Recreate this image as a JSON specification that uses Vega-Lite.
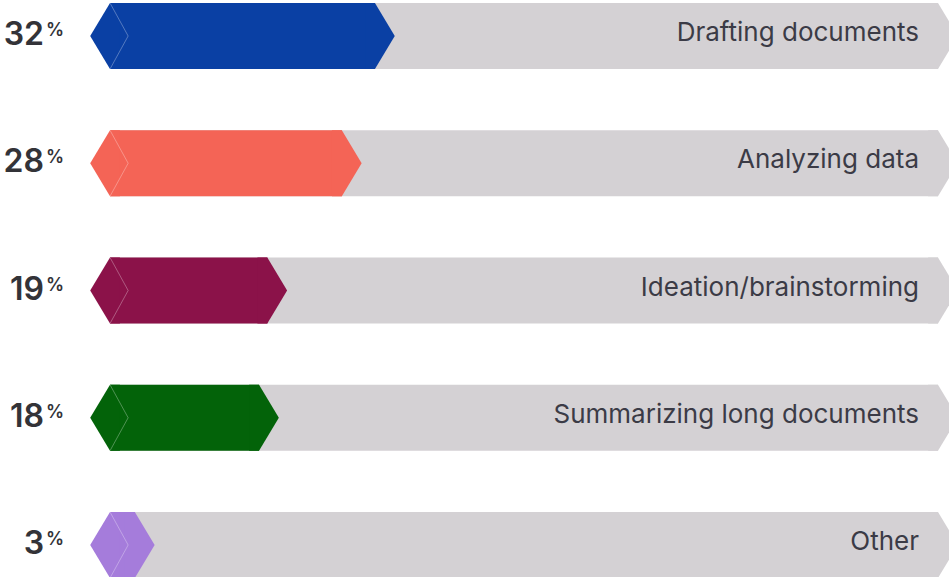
{
  "$schema": "https://vega.github.io/schema/vega-lite/v6.json",
  "width": 828,
  "height": 509,
  "autosize": "none",
  "padding": {"left": 110, "right": 11, "top": 36, "bottom": 32},
  "background": "white",
  "config": {"view": {"stroke": null}},
  "data": {
    "values": [
      {"cat": "Drafting documents", "value": 32},
      {"cat": "Analyzing data", "value": 28},
      {"cat": "Ideation/brainstorming", "value": 19},
      {"cat": "Summarizing long documents", "value": 18},
      {"cat": "Other", "value": 3}
    ]
  },
  "encoding": {
    "y": {"field": "cat", "type": "nominal", "sort": null, "scale": {"type": "point", "padding": 0}, "axis": null}
  },
  "layer": [
    {
      "mark": {"type": "bar", "height": 66, "color": "#d4d1d4"},
      "encoding": {
        "x": {"datum": 0, "type": "quantitative", "scale": {"domain": [0, 100]}, "axis": null},
        "x2": {"datum": 100}
      }
    },
    {
      "mark": {"type": "point", "filled": true, "opacity": 1, "size": 4356, "strokeWidth": 0, "color": "#d4d1d4", "shape": "M-0.3,-1L0,-1L0.6,0L0,1L-0.3,1Z"},
      "encoding": {"x": {"datum": 100, "type": "quantitative"}}
    },
    {
      "mark": {"type": "bar", "height": 66},
      "encoding": {
        "x": {"field": "value", "type": "quantitative"},
        "x2": {"datum": 0},
        "color": {"field": "cat", "type": "nominal", "sort": null, "legend": null,
          "scale": {"domain": ["Drafting documents", "Analyzing data", "Ideation/brainstorming", "Summarizing long documents", "Other"],
                    "range": ["#0a40a4", "#f46456", "#8b1249", "#036309", "#a57cdb"]}}
      }
    },
    {
      "mark": {"type": "point", "filled": true, "opacity": 1, "size": 4356, "strokeWidth": 0, "shape": "M-0.3,-1L0,-1L0.6,0L0,1L-0.3,1Z"},
      "encoding": {
        "x": {"field": "value", "type": "quantitative"},
        "color": {"field": "cat", "type": "nominal", "sort": null, "legend": null}
      }
    },
    {
      "mark": {"type": "point", "filled": true, "opacity": 1, "size": 4356, "strokeWidth": 0, "shape": "M0.3,-1L0,-1L-0.6,0L0,1L0.3,1Z"},
      "encoding": {
        "x": {"datum": 0, "type": "quantitative"},
        "color": {"field": "cat", "type": "nominal", "sort": null, "legend": null}
      }
    },
    {
      "mark": {"type": "point", "filled": false, "opacity": 1, "size": 4356, "strokeWidth": 1, "stroke": "white", "strokeOpacity": 0.3, "shape": "M0,-1L0.55,0L0,1"},
      "encoding": {"x": {"datum": 0, "type": "quantitative"}}
    },
    {
      "mark": {"type": "text", "align": "right", "baseline": "alphabetic", "dx": -66, "dy": 9, "font": "Inter", "fontSize": 32, "fontWeight": 600, "color": "#333338"},
      "encoding": {"x": {"datum": 0, "type": "quantitative"}, "text": {"field": "value"}}
    },
    {
      "mark": {"type": "text", "align": "left", "baseline": "alphabetic", "dx": -64, "dy": 0, "font": "Inter", "fontSize": 18, "fontWeight": 600, "color": "#333338", "text": "%"},
      "encoding": {"x": {"datum": 0, "type": "quantitative"}}
    },
    {
      "mark": {"type": "text", "align": "right", "baseline": "alphabetic", "dx": -19, "dy": 5, "font": "Inter", "fontSize": 26, "fontWeight": 400, "color": "#3b3b46"},
      "encoding": {"x": {"datum": 100, "type": "quantitative"}, "text": {"field": "cat"}}
    }
  ]
}
